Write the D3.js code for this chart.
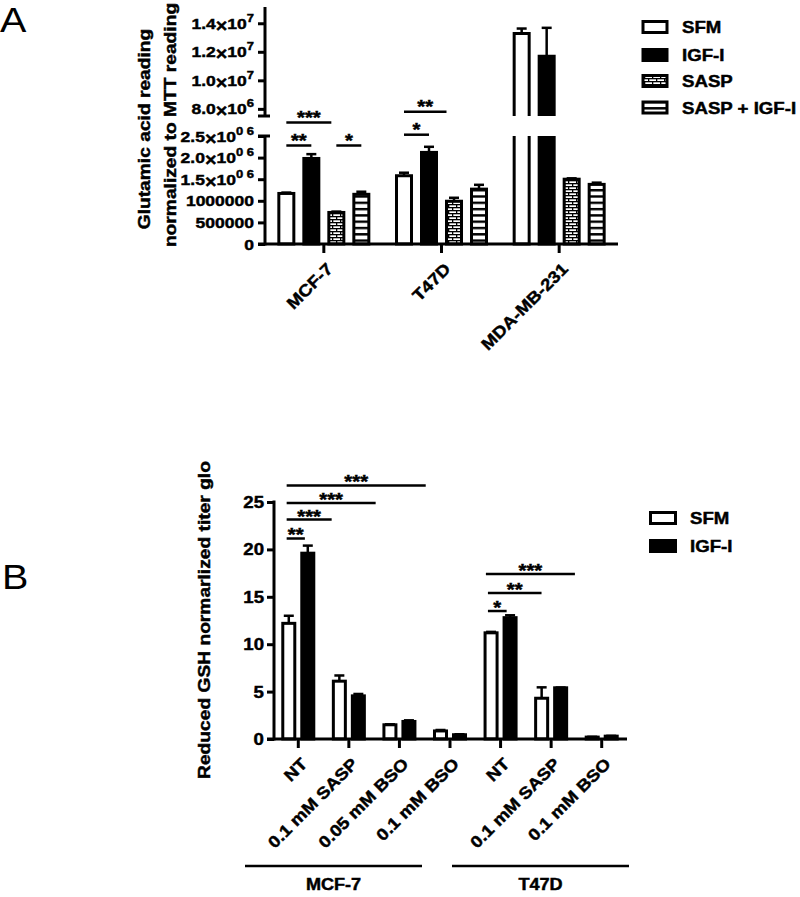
<!DOCTYPE html>
<html><head><meta charset="utf-8">
<script src="https://cdn.jsdelivr.net/npm/d3@7"></script>
<style>body{margin:0;background:#fff} svg{display:block} text{font-family:"Liberation Sans",Arial,sans-serif;}</style>
</head><body><svg id="c" width="800" height="897"></svg>
<script>
// ---------- Panel A data ----------
const cellLines = ["MCF-7", "T47D", "MDA-MB-231"];
const seriesA = ["SFM", "IGF-I", "SASP", "SASP + IGF-I"];
const sfmA = [1.17e6, 1.58e6, 1.328e7];
const sfmAErr = [0.02e6, 0.07e6, 0.35e6];
const igfA = [1.98e6, 2.12e6, 1.168e7];
const igfAErr = [0.10e6, 0.13e6, 2.0e6];
const saspA = [0.73e6, 0.99e6, 1.50e6];
const saspAErr = [0.02e6, 0.08e6, 0.02e6];
const saspIgfA = [1.15e6, 1.27e6, 1.38e6];
const saspIgfAErr = [0.06e6, 0.10e6, 0.04e6];
const upperTicksA = [8e6, 1e7, 1.2e7, 1.4e7];
const upperTickLabelsA = [["8.0", "6"], ["1.0", "7"], ["1.2", "7"], ["1.4", "7"]];
const lowerTicksA = [0, 5e5, 1e6, 1.5e6, 2e6, 2.5e6];
const lowerTickLabelsA = ["0", "500000", "1000000", ["1.5", "0 6"], ["2.0", "0 6"], ["2.5", "0 6"]];
// significance: [cell index, from series pos, to series pos, level, label]
const sigA = [[0, 0, 1.8, 2.81e6, "***"], [0, 0, 1, 2.28e6, "**"], [0, 2, 3, 2.28e6, "*"],
              [1, 0, 1.7, 3.06e6, "**"], [1, 0, 1, 2.53e6, "*"]];

// ---------- Panel B data ----------
const treatments = ["NT", "0.1 mM SASP", "0.05 mM BSO", "0.1 mM BSO", "NT", "0.1 mM SASP", "0.1 mM BSO"];
const seriesB = ["SFM", "IGF-I"];
const sfmB = [12.2, 6.1, 1.5, 0.85, 11.2, 4.3, 0.2];
const sfmBErr = [0.8, 0.6, 0.05, 0.1, 0.1, 1.15, 0.03];
const igfB = [19.6, 4.55, 1.85, 0.45, 12.8, 5.4, 0.3];
const igfBErr = [0.8, 0.2, 0.12, 0.05, 0.25, 0.03, 0.03];
const yTicksB = [0, 5, 10, 15, 20, 25];
// significance: [from category pos, to category pos, level, label]
const sigB = [[-0.23, 2.52, 26.75, "***"], [-0.23, 1.53, 24.9, "***"], [-0.23, 0.66, 23.15, "***"], [-0.23, 0.13, 21.15, "**"],
              [3.71, 5.47, 17.4, "***"], [3.75, 4.81, 15.4, "**"], [3.75, 4.12, 13.5, "*"]];
const groupsB = ["MCF-7", "T47D"];

// ---------- helpers ----------
const svg = d3.select("#c");
const SX = 1.13;
function txt(g, x, y, s, size, anchor, opts = {}) {
  const bold = (opts.weight || "bold") === "bold";
  const t = g.append("text")
    .attr("transform", `translate(${x},${y}) rotate(${opts.rot || 0}) scale(${opts.sx || SX},1)`)
    .attr("font-size", size).attr("font-weight", opts.weight || "bold")
    .attr("text-anchor", anchor).attr("fill", "#000");
  if (bold) t.attr("stroke", "#000").attr("stroke-width", 0.45);
  if (s !== null) t.text(s);
  return t;
}
function sciLabel(g, x, y, parts, size) {
  const t = txt(g, x, y, null, size, "end");
  t.append("tspan").text(parts[0]);
  t.append("tspan").attr("dy", 3).attr("font-size", size + 2).text("\u00d7");
  t.append("tspan").attr("dy", -3).text("10");
  t.append("tspan").attr("dy", -7).attr("font-size", size - 4).text(parts[1]);
  return t;
}

// patterns
const defs = svg.append("defs");
const brick = defs.append("pattern").attr("id", "brick").attr("patternUnits", "userSpaceOnUse").attr("width", 8).attr("height", 6);
brick.append("rect").attr("width", 8).attr("height", 6).attr("fill", "#fff");
brick.append("rect").attr("width", 8).attr("height", 1.3).attr("fill", "#000");
brick.append("rect").attr("y", 3).attr("width", 8).attr("height", 1.3).attr("fill", "#000");
brick.append("rect").attr("width", 1.3).attr("height", 3).attr("fill", "#000");
brick.append("rect").attr("x", 4).attr("y", 3).attr("width", 1.3).attr("height", 3).attr("fill", "#000");
const stripe = defs.append("pattern").attr("id", "stripe").attr("patternUnits", "userSpaceOnUse").attr("width", 4).attr("height", 6.3);
stripe.append("rect").attr("width", 4).attr("height", 6.3).attr("fill", "#fff");
stripe.append("rect").attr("width", 4).attr("height", 2.4).attr("fill", "#000");

const fillsA = ["#fff", "#000", "url(#brick)", "url(#stripe)"];
const fillsB = ["#fff", "#000"];

// =============== PANEL A ===============
const gA = svg.append("g");
txt(gA, 0, 32, "A", 35, "start", { weight: "normal" });
const axA = 265, baseA = 244, breakLo = 136, breakHi = 116;
const yLowA = d3.scaleLinear().domain([0, 2.5e6]).range([baseA, breakLo]);
const yUpA = d3.scaleLinear().domain([7.5e6, 1.5e7]).range([breakHi, 9]);
const x0A = d3.scaleBand().domain(cellLines).range([axA, 618]);
const x1A = d3.scaleBand().domain(seriesA).range([-50, 50]).paddingInner(0.4).paddingOuter(0.2);
const valsA = [sfmA, igfA, saspA, saspIgfA];
const errsA = [sfmAErr, igfAErr, saspAErr, saspIgfAErr];
const yA = v => v > 2.5e6 ? yUpA(v) : yLowA(v);

// bars
seriesA.forEach((s, si) => {
  cellLines.forEach((c, ci) => {
    const v = valsA[si][ci], e = errsA[si][ci];
    const bx = x0A(c) + x0A.bandwidth() / 2 + x1A(s), bw = x1A.bandwidth();
    const cx = bx + bw / 2;
    gA.append("line").attr("x1", cx).attr("x2", cx).attr("y1", yA(v)).attr("y2", yA(v + e)).attr("stroke", "#000").attr("stroke-width", 2.5);
    gA.append("line").attr("x1", cx - 5).attr("x2", cx + 5).attr("y1", yA(v + e)).attr("y2", yA(v + e)).attr("stroke", "#000").attr("stroke-width", 2.5);
    if (v > 2.5e6) {
      const top = yUpA(v);
      gA.append("rect").attr("x", bx).attr("y", top).attr("width", bw).attr("height", breakHi - top).attr("fill", fillsA[si]);
      gA.append("path").attr("d", `M${bx},${breakHi}V${top}H${bx + bw}V${breakHi}`).attr("fill", "none").attr("stroke", "#000").attr("stroke-width", 3);
      gA.append("rect").attr("x", bx).attr("y", breakLo).attr("width", bw).attr("height", baseA - breakLo).attr("fill", fillsA[si]);
      gA.append("path").attr("d", `M${bx},${breakLo}V${baseA}H${bx + bw}V${breakLo}`).attr("fill", "none").attr("stroke", "#000").attr("stroke-width", 3);
    } else {
      gA.append("rect").attr("x", bx).attr("y", yLowA(v)).attr("width", bw).attr("height", baseA - yLowA(v))
        .attr("fill", fillsA[si]).attr("stroke", "#000").attr("stroke-width", 3);
    }
  });
});

// axes A
gA.append("line").attr("x1", axA).attr("x2", axA).attr("y1", 7).attr("y2", breakHi).attr("stroke", "#000").attr("stroke-width", 3);
gA.append("line").attr("x1", axA).attr("x2", axA).attr("y1", breakLo).attr("y2", baseA + 1.5).attr("stroke", "#000").attr("stroke-width", 3);
[breakHi, breakLo].forEach(y => gA.append("line").attr("x1", axA - 7).attr("x2", axA + 5).attr("y1", y).attr("y2", y).attr("stroke", "#000").attr("stroke-width", 3));
gA.append("line").attr("x1", axA - 7).attr("x2", 618).attr("y1", baseA).attr("y2", baseA).attr("stroke", "#000").attr("stroke-width", 3);
const yAxUp = d3.axisLeft(yUpA).tickValues(upperTicksA).tickSize(7).tickFormat(() => "");
const yAxLo = d3.axisLeft(yLowA).tickValues(lowerTicksA).tickSize(7).tickFormat(() => "");
[yAxUp, yAxLo].forEach(ax => {
  const g = gA.append("g").attr("transform", `translate(${axA},0)`).call(ax);
  g.select(".domain").remove();
  g.selectAll(".tick line").attr("stroke", "#000").attr("stroke-width", 3);
});
upperTicksA.forEach((t, i) => sciLabel(gA, 254, yUpA(t) + 5.5, upperTickLabelsA[i], 15.5));
lowerTicksA.forEach((t, i) => {
  const l = lowerTickLabelsA[i];
  if (Array.isArray(l)) sciLabel(gA, 254, yLowA(t) + 5.5, l, 15.5);
  else txt(gA, 254, yLowA(t) + 5.5, l, 15.5, "end");
});
const gxa = gA.append("g").attr("transform", `translate(0,${baseA})`).call(d3.axisBottom(x0A).tickSize(9).tickFormat(() => ""));
gxa.select(".domain").remove();
gxa.selectAll(".tick line").attr("stroke", "#000").attr("stroke-width", 3);
cellLines.forEach(c => txt(gA, x0A(c) + x0A.bandwidth() / 2 + 10, baseA + 26, c, 16.5, "end", { rot: -45 }));

// y title A
txt(gA, 150, 129, "Glutamic acid reading", 17, "middle", { rot: -90 });
txt(gA, 176, 125, "normalized to MTT reading", 17, "middle", { rot: -90 });

// significance A
const sxA = (ci, p) => x0A(cellLines[ci]) + x0A.bandwidth() / 2 + x1A(seriesA[0]) + x1A.bandwidth() / 2 + p * x1A.step();
sigA.forEach(([ci, a, b, lvl, lab]) => {
  const x1 = sxA(ci, a), x2 = sxA(ci, b), y = yLowA(lvl);
  gA.append("line").attr("x1", x1).attr("x2", x2).attr("y1", y).attr("y2", y).attr("stroke", "#000").attr("stroke-width", 2.5);
  txt(gA, (x1 + x2) / 2, y + 1, lab, 18, "middle");
});

// legend A
seriesA.forEach((s, i) => {
  const cy = [27, 55, 81, 107.5][i];
  gA.append("rect").attr("x", 643).attr("y", cy - 5.5).attr("width", 24).attr("height", 11)
    .attr("fill", fillsA[i]).attr("stroke", "#000").attr("stroke-width", 3);
  txt(gA, 682, cy + 6, s, 16.5, "start");
});

// =============== PANEL B ===============
const gB = svg.append("g");
txt(gB, 2, 589, "B", 35, "start", { weight: "normal" });
const axB = 274, baseB = 739;
const yB = d3.scaleLinear().domain([0, 25]).range([baseB, 502]);
const x0B = d3.scaleBand().domain(d3.range(treatments.length)).range([273, 627]);
const x1B = d3.scaleBand().domain(seriesB).range([-19, 19]).paddingInner(0.368).paddingOuter(0.184);
const valsB = [sfmB, igfB], errsB = [sfmBErr, igfBErr];

seriesB.forEach((s, si) => {
  treatments.forEach((t, ti) => {
    const v = valsB[si][ti], e = errsB[si][ti];
    const bx = x0B(ti) + x0B.bandwidth() / 2 + x1B(s), bw = x1B.bandwidth();
    const cx = bx + bw / 2;
    gB.append("line").attr("x1", cx).attr("x2", cx).attr("y1", yB(v)).attr("y2", yB(v + e)).attr("stroke", "#000").attr("stroke-width", 2.5);
    gB.append("line").attr("x1", cx - 5).attr("x2", cx + 5).attr("y1", yB(v + e)).attr("y2", yB(v + e)).attr("stroke", "#000").attr("stroke-width", 2.5);
    gB.append("rect").attr("x", bx).attr("y", yB(v)).attr("width", bw).attr("height", baseB - yB(v))
      .attr("fill", fillsB[si]).attr("stroke", "#000").attr("stroke-width", 3);
  });
});

gB.append("line").attr("x1", axB).attr("x2", axB).attr("y1", yB(25) - 1.5).attr("y2", baseB + 1.5).attr("stroke", "#000").attr("stroke-width", 3);
gB.append("line").attr("x1", axB - 7).attr("x2", 627).attr("y1", baseB).attr("y2", baseB).attr("stroke", "#000").attr("stroke-width", 3);
const gyb = gB.append("g").attr("transform", `translate(${axB},0)`).call(d3.axisLeft(yB).tickValues(yTicksB).tickSize(7).tickFormat(() => ""));
gyb.select(".domain").remove();
gyb.selectAll(".tick line").attr("stroke", "#000").attr("stroke-width", 3);
yTicksB.forEach(t => txt(gB, 264, yB(t) + 6, String(t), 16.5, "end"));
const gxb = gB.append("g").attr("transform", `translate(0,${baseB})`).call(d3.axisBottom(x0B).tickSize(9).tickFormat(() => ""));
gxb.select(".domain").remove();
gxb.selectAll(".tick line").attr("stroke", "#000").attr("stroke-width", 3);
treatments.forEach((t, i) => txt(gB, x0B(i) + x0B.bandwidth() / 2 + 10, baseB + 26, t, 16.5, "end", { rot: -45 }));

txt(gB, 210, 620, "Reduced GSH normarlized titer glo", 17, "middle", { rot: -90 });

const sxB = p => x0B.range()[0] + (p + 0.5) * x0B.step();
sigB.forEach(([a, b, lvl, lab]) => {
  const x1 = sxB(a), x2 = sxB(b), y = yB(lvl);
  gB.append("line").attr("x1", x1).attr("x2", x2).attr("y1", y).attr("y2", y).attr("stroke", "#000").attr("stroke-width", 2.5);
  txt(gB, (x1 + x2) / 2, y + 3, lab, 18, "middle");
});

// group lines
const groupLineX = [[245, 422], [452, 629]];
groupsB.forEach((gname, i) => {
  const [a, b] = groupLineX[i];
  gB.append("line").attr("x1", a).attr("x2", b).attr("y1", 866).attr("y2", 866).attr("stroke", "#000").attr("stroke-width", 2.5);
  txt(gB, (a + b) / 2, 890, gname, 16, "middle");
});

// legend B
seriesB.forEach((s, i) => {
  const cy = [518, 546][i];
  gB.append("rect").attr("x", 650.5).attr("y", cy - 5.5).attr("width", 25).attr("height", 11)
    .attr("fill", fillsB[i]).attr("stroke", "#000").attr("stroke-width", 3);
  txt(gB, 690, cy + 6, s, 16.5, "start");
});
</script>
</body></html>
